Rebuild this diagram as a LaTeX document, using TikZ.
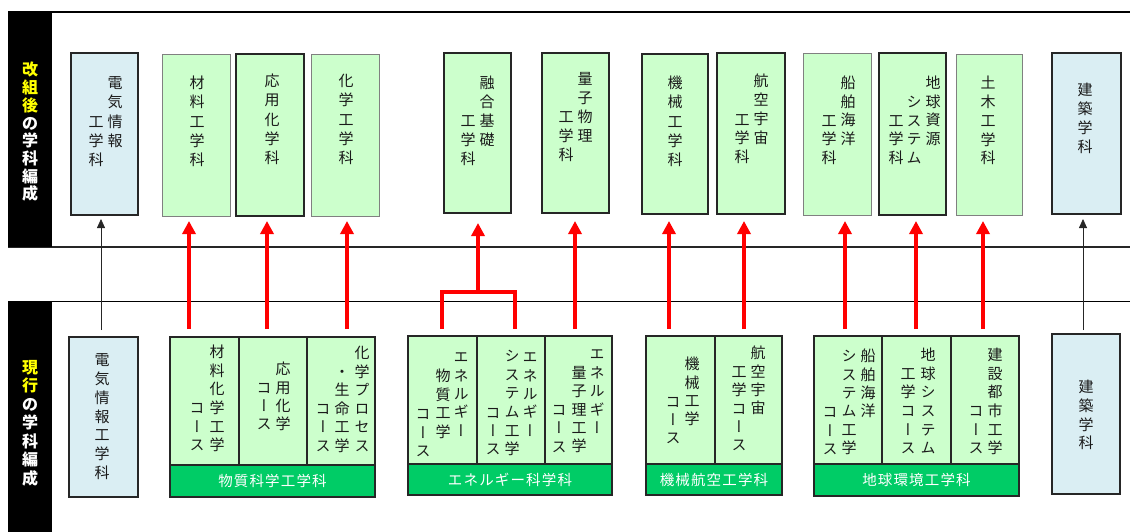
\documentclass[tikz,border=0pt]{standalone}
\usepackage{fontspec}
\usetikzlibrary{arrows.meta}
\newfontfamily\jfont{Noto Sans CJK JP}
\newfontfamily\vfont{Noto Sans CJK JP}[RawFeature={+vert}]
\newfontfamily\jfontsp{Noto Sans CJK JP}[LetterSpace=8]
\definecolor{gfill}{HTML}{CCFFCC}
\definecolor{bfill}{HTML}{DAEEF3}
\definecolor{barfill}{HTML}{00CC66}
\definecolor{dk}{HTML}{262626}
\definecolor{gy}{HTML}{808080}
\definecolor{txt}{HTML}{1A1A1A}
\definecolor{ylw}{HTML}{FFFF00}
\tikzset{
 box/.style={rectangle, inner sep=0, outer sep=0},
 dkb/.style={box, draw=dk, line width=1.3pt},
 gyb/.style={box, draw=gy, line width=0.8pt},
 grn/.style={fill=gfill},
 blu/.style={fill=bfill},
 bar/.style={box, draw=dk, line width=1.3pt, fill=barfill, text=white, font=\jfontsp\fontsize{14.5}{14.5}\selectfont},
 vch/.style={inner sep=0, text height=13.2pt, text depth=1.8pt, font=\vfont\fontsize{15}{15}\selectfont, text=txt},
 side/.style={inner sep=0, text height=14pt, text depth=2pt, font=\jfont\bfseries\fontsize{16}{16}\selectfont},
 redarr/.style={draw=red, line width=4pt, -{Triangle[width=13pt,length=13pt]}},
 redln/.style={draw=red, line width=4pt},
 blkarr/.style={draw=dk, line width=0.8pt, -{Triangle[width=8pt,length=9pt]}},
}
% box: [text]{name}{style}{x1}{y1}{x2}{y2}
\newcommand\bx[7][]{\node[#3, minimum width={(#6)-(#4)}, minimum height={(#7)-(#5)}] (#2) at ({((#4)+(#6))/2},{((#5)+(#7))/2}) {#1};}
% vertical column: [style]{name}{x}{y0}{dy}{chars}
\newcommand\vc[6][vch]{\foreach \ch [count=\i from 0] in {#6} {\node[#1] (#2-\i) at (#3,{#4+\i*#5}) {\ch};}}
\begin{document}
\begin{tikzpicture}[x=1pt,y=-1pt]
\useasboundingbox (0,0) rectangle (1130,532);
% frame lines
\coordinate (l1a) at (8,12); \coordinate (l1b) at (1130,12);
\coordinate (l2a) at (8,247); \coordinate (l2b) at (1130,247);
\coordinate (l3a) at (8,301); \coordinate (l3b) at (1130,301);
\draw[black, line width=1.3pt] (l1a) -- (l1b);
\draw[dk, line width=1.8pt] (l2a) -- (l2b);
\draw[black, line width=1pt] (l3a) -- (l3b);
\bx{side1}{box, fill=black}{8}{12}{52}{247}
\bx{side2}{box, fill=black}{8}{301}{52}{532}
\vc[side, text=ylw]{s1a}{30}{70}{17.7}{改,組,後}
\vc[side, text=white]{s1b}{30}{123.1}{17.7}{の,学,科,編,成}
\vc[side, text=ylw]{s2a}{30}{367}{18.5}{現,行}
\vc[side, text=white]{s2b}{30}{404}{18.5}{の,学,科,編,成}

% ---- top boxes ----
\bx{T1}{dkb, blu}{71}{53}{138}{215}
\bx{T2}{gyb, grn}{162}{54}{230}{216}
\bx{T3}{dkb, grn}{236}{54}{304}{216}
\bx{T4}{gyb, grn}{311}{54}{379}{216}
\bx{T5}{dkb, grn}{444}{53}{511}{213}
\bx{T6}{dkb, grn}{542}{53}{609}{213}
\bx{T7}{dkb, grn}{642}{54}{708}{214}
\bx{T8}{dkb, grn}{717}{53}{785}{214}
\bx{T9}{gyb, grn}{803}{53}{871}{215}
\bx{T10}{dkb, grn}{879}{53}{946}{215}
\bx{T11}{gyb, grn}{956}{54}{1022}{215}
\bx{T12}{dkb, blu}{1052}{53}{1121}{214}

\vc{t1r}{115}{83}{19.2}{電,気,情,報}
\vc{t1l}{96}{121.4}{19.2}{工,学,科}
\vc{t2}{197}{83}{19.2}{材,料,工,学,科}
\vc{t3}{272}{81}{19.2}{応,用,化,学,科}
\vc{t4}{346}{81}{19.2}{化,学,工,学,科}
\vc{t5r}{487}{83}{19}{融,合,基,礎}
\vc{t5l}{468}{121}{19}{工,学,科}
\vc{t6r}{585}{79}{18.8}{量,子,物,理}
\vc{t6l}{566}{117}{18.8}{工,学,科}
\vc{t7}{675}{83}{19.2}{機,械,工,学,科}
\vc{t8r}{761}{81}{18.8}{航,空,宇,宙}
\vc{t8l}{742}{119.5}{18.8}{工,学,科}
\vc{t9r}{848}{83}{18.6}{船,舶,海,洋}
\vc{t9l}{829}{120.5}{18.6}{工,学,科}
\vc{t10r}{933}{83}{18.6}{地,球,資,源}
\vc{t10m}{914}{102}{18.6}{シ,ス,テ,ム}
\vc{t10l}{896}{120.5}{18.6}{工,学,科}
\vc{t11}{988}{83}{18.8}{土,木,工,学,科}
\vc{t12}{1085}{90}{19}{建,築,学,科}

% ---- bottom boxes ----
\bx{B1}{dkb, blu}{69}{337}{138}{497}
\bx{C1}{dkb, grn}{170}{337}{239}{465}
\bx{C2}{dkb, grn}{239}{337}{307}{465}
\bx{C3}{dkb, grn}{307}{337}{375}{465}
\bx[物質科学工学科]{G1}{bar}{170}{465}{375}{497}
\bx{C4}{dkb, grn}{408}{336}{477}{464}
\bx{C5}{dkb, grn}{477}{336}{545}{464}
\bx{C6}{dkb, grn}{545}{336}{612}{464}
\bx[エネルギー科学科]{G2}{bar}{408}{464}{612}{495}
\bx{C7}{dkb, grn}{646}{336}{715}{464}
\bx{C8}{dkb, grn}{715}{336}{782}{464}
\bx[機械航空工学科]{G3}{bar}{646}{464}{782}{495}
\bx{C9}{dkb, grn}{814}{336}{882}{464}
\bx{C10}{dkb, grn}{882}{336}{951}{464}
\bx{C11}{dkb, grn}{951}{336}{1019}{464}
\bx[地球環境工学科]{G4}{bar}{814}{464}{1019}{496}
\bx{B6}{dkb, blu}{1052}{334}{1120}{494}

\vc{b1}{102}{360}{18.8}{電,気,情,報,工,学,科}
\vc{c1r}{217}{352}{18.6}{材,料,化,学,工,学}
\vc{c1l}{197}{407.8}{18.6}{コ,ー,ス}
\vc{c2r}{283}{369}{18.4}{応,用,化,学}
\vc{c2l}{264}{387.4}{18.4}{コ,ー,ス}
\vc{c3r}{362}{353}{18.5}{化,学,プ,ロ,セ,ス}
\vc{c3m}{342}{371.5}{18.5}{・,生,命,工,学}
\vc{c3l}{323}{408.5}{18.5}{コ,ー,ス}
\vc{c4r}{461}{357}{18.4}{エ,ネ,ル,ギ,ー}
\vc{c4m}{443}{376}{18.5}{物,質,工,学}
\vc{c4l}{423}{414}{18.3}{コ,ー,ス}
\vc{c5r}{530}{357}{18.4}{エ,ネ,ル,ギ,ー}
\vc{c5m}{512}{356}{18.6}{シ,ス,テ,ム,工,学}
\vc{c5l}{493}{412.5}{18.3}{コ,ー,ス}
\vc{c6r}{597}{354}{18.5}{エ,ネ,ル,ギ,ー}
\vc{c6m}{579}{372.5}{18.4}{量,子,理,工,学}
\vc{c6l}{559}{409.5}{18.4}{コ,ー,ス}
\vc{c7r}{692}{364}{18.3}{機,械,工,学}
\vc{c7l}{673}{402}{18}{コ,ー,ス}
\vc{c8r}{758}{353}{18.4}{航,空,宇,宙}
\vc{c8l}{739}{371.5}{18.4}{工,学,コ,ー,ス}
\vc{c9r}{868}{356}{18.4}{船,舶,海,洋}
\vc{c9m}{849}{356}{18.4}{シ,ス,テ,ム,工,学}
\vc{c9l}{830}{412}{18.4}{コ,ー,ス}
\vc{c10r}{928}{355}{18.6}{地,球,シ,ス,テ,ム}
\vc{c10l}{908}{373.6}{18.6}{工,学,コ,ー,ス}
\vc{c11r}{995}{355}{18.6}{建,設,都,市,工,学}
\vc{c11l}{976}{410.8}{18.6}{コ,ー,ス}
\vc{b6}{1086}{387}{18.7}{建,築,学,科}

% ---- connectors ----
\coordinate (k1-s) at (101,330); \coordinate (k1-e) at (101,219);
\coordinate (k2-s) at (1083,330); \coordinate (k2-e) at (1083,219);
\draw[blkarr] (k1-s) -- (k1-e);
\draw[blkarr] (k2-s) -- (k2-e);
\foreach \n/\x in {r1/189, r2/267, r3/347, r4/575, r5/669, r6/744, r7/845, r8/916, r9/983} {
  \coordinate (\n-s) at (\x,329); \coordinate (\n-e) at (\x,221);
  \draw[redarr] (\n-s) -- (\n-e);
}
\coordinate (bl) at (442,329); \coordinate (br) at (515,329);
\coordinate (bj) at (478,292); \coordinate (bt) at (478,223);
\draw[redln, line join=miter] (bl) |- (bj) -| (br);
\draw[redarr] (bj) -- (bt);
\end{tikzpicture}
\end{document}
